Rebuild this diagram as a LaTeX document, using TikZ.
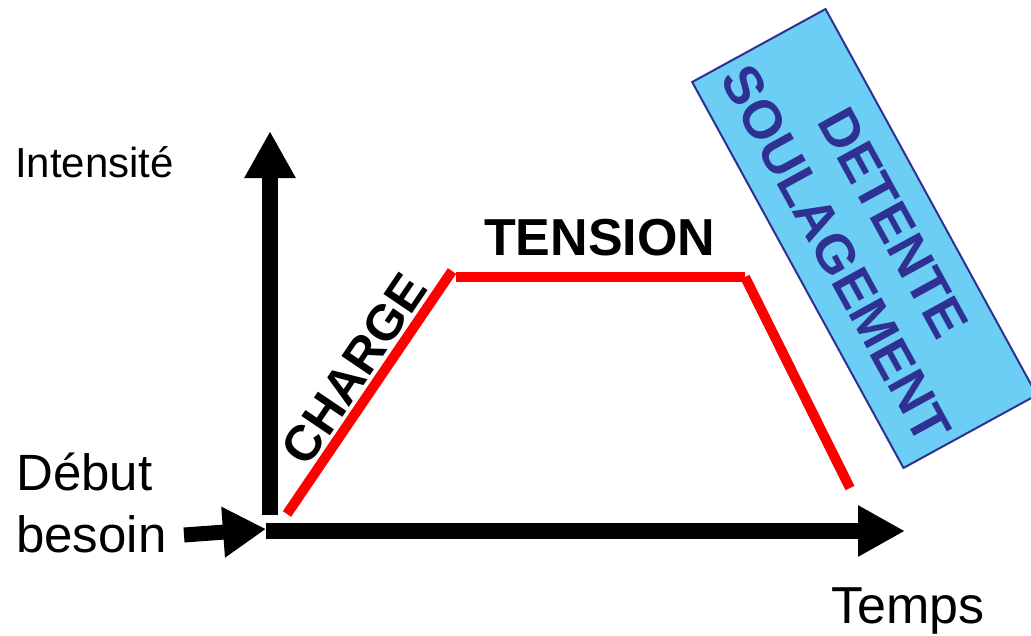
\documentclass[tikz,border=0pt]{standalone}
\usepackage{fontspec}
\setmainfont{Liberation Sans}
\usetikzlibrary{arrows.meta}
\definecolor{boxblue}{RGB}{108,206,245}
\definecolor{dblue}{RGB}{46,49,146}
\begin{document}
\begin{tikzpicture}[x=1pt,y=-1pt,
  axisline/.style={line width=16pt, -{Triangle[length=47pt,width=48pt]}},
  smallarrow/.style={line width=15pt, -{Triangle[length=43pt,width=48pt]}},
  curve/.style={red, line width=10pt},
  lbl/.style={inner sep=0pt, anchor=base west},
  reg/.style={font=\fontsize{51}{62}\selectfont},
]
\useasboundingbox (0,0) rectangle (1031,635);
% axes
\coordinate (vbot) at (270,515);
\coordinate (vtip) at (270,131);
\coordinate (hbeg) at (266,531);
\coordinate (htip) at (905,531);
\coordinate (sbeg) at (184,535);
\coordinate (stip) at (266,529);
\draw[axisline] (vbot) -- (vtip);
\draw[axisline] (hbeg) -- (htip);
\draw[smallarrow] (sbeg) -- (stip);
% red curve
\coordinate (r0) at (287,514);
\coordinate (r1) at (452,271);
\coordinate (r2) at (456,277);
\coordinate (r3) at (745,277);
\coordinate (r4) at (850,488);
\draw[curve] (r0) -- (r1);
\draw[curve] (r2) -- (r3);
\draw[curve] (r3) -- (r4);
% labels
\node[lbl, font=\fontsize{42}{50}\selectfont] (int) at (15,177) {Intensité};
\node[lbl, reg] (deb) at (16,490) {Début};
\node[lbl, reg] (bes) at (16,552) {besoin};
\node[lbl, font=\fontsize{52}{60}\selectfont] (tps) at (831,623) {Temps};
\node[lbl, font=\fontsize{52}{62}\selectfont\bfseries] (ten) at (484,255) {TENSION};
\node[inner sep=0pt, anchor=base, rotate=55.9, font=\fontsize{50}{60}\selectfont\bfseries] (chg) at (368.5,378.4) {CHARGE};
% blue box
\node[rotate=-61.3, draw=dblue, line width=2pt, fill=boxblue, minimum width=440pt, minimum height=152pt,
      inner sep=0pt, align=center, text=dblue, font=\fontsize{54}{65}\selectfont\bfseries] (box) at (864.5,238.5)
      {DETENTE\\SOULAGEMENT};
\end{tikzpicture}
\end{document}
